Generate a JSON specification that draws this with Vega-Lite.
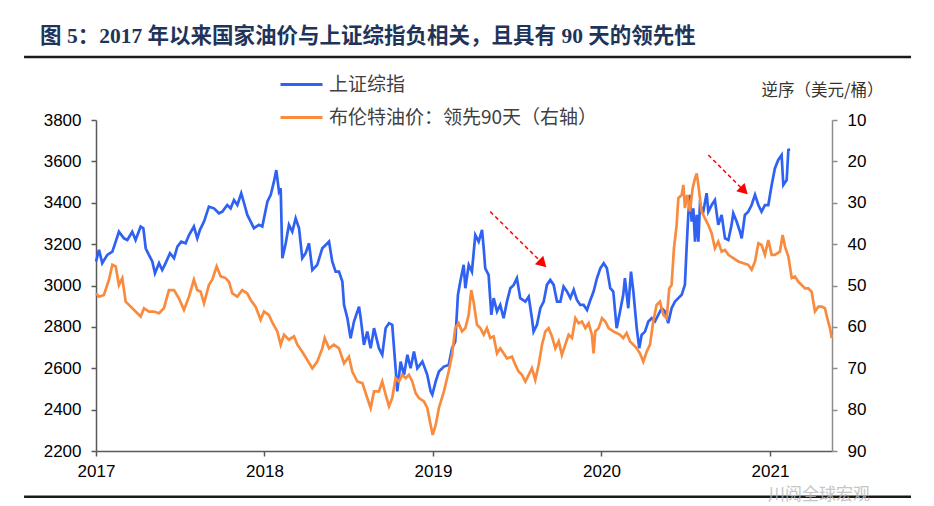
{
  "$schema": "https://vega.github.io/schema/vega-lite/v6.json",
  "width": 736,
  "height": 331,
  "autosize": {"type": "none"},
  "padding": {"left": 96, "top": 120, "right": 102, "bottom": 55},
  "background": "white",
  "title": {
    "text": "图 5：2017 年以来国家油价与上证综指负相关，且具有 90 天的领先性",
    "anchor": "start",
    "frame": "group",
    "dx": -56,
    "offset": 8,
    "font": "Liberation Serif, Noto Sans CJK SC",
    "fontSize": 21.5,
    "fontWeight": "bold",
    "color": "#1f3458"
  },
  "config": {"view": {"stroke": null}},
  "datasets": {
    "shci": [
      {"t":2017.000,"value":3116},{"t":2017.018,"value":3172},{"t":2017.037,"value":3108},{"t":2017.067,"value":3148},{"t":2017.097,"value":3164},{"t":2017.117,"value":3212},{"t":2017.136,"value":3260},{"t":2017.166,"value":3228},{"t":2017.186,"value":3220},{"t":2017.215,"value":3260},{"t":2017.235,"value":3220},{"t":2017.265,"value":3285},{"t":2017.281,"value":3277},{"t":2017.295,"value":3180},{"t":2017.314,"value":3148},{"t":2017.334,"value":3116},{"t":2017.350,"value":3059},{"t":2017.374,"value":3108},{"t":2017.393,"value":3075},{"t":2017.413,"value":3108},{"t":2017.439,"value":3156},{"t":2017.463,"value":3132},{"t":2017.483,"value":3188},{"t":2017.506,"value":3212},{"t":2017.532,"value":3204},{"t":2017.552,"value":3244},{"t":2017.581,"value":3285},{"t":2017.601,"value":3228},{"t":2017.617,"value":3269},{"t":2017.641,"value":3309},{"t":2017.670,"value":3381},{"t":2017.700,"value":3373},{"t":2017.730,"value":3349},{"t":2017.750,"value":3357},{"t":2017.779,"value":3389},{"t":2017.799,"value":3373},{"t":2017.819,"value":3413},{"t":2017.839,"value":3389},{"t":2017.862,"value":3446},{"t":2017.882,"value":3389},{"t":2017.898,"value":3341},{"t":2017.918,"value":3309},{"t":2017.937,"value":3277},{"t":2017.967,"value":3293},{"t":2017.987,"value":3285},
      {"t":2018.017,"value":3405},{"t":2018.037,"value":3438},{"t":2018.056,"value":3502},{"t":2018.070,"value":3558},{"t":2018.086,"value":3454},{"t":2018.096,"value":3470},{"t":2018.106,"value":3132},{"t":2018.126,"value":3204},{"t":2018.145,"value":3293},{"t":2018.165,"value":3260},{"t":2018.185,"value":3325},{"t":2018.205,"value":3277},{"t":2018.224,"value":3132},{"t":2018.244,"value":3156},{"t":2018.264,"value":3204},{"t":2018.284,"value":3075},{"t":2018.313,"value":3100},{"t":2018.343,"value":3180},{"t":2018.363,"value":3196},{"t":2018.383,"value":3212},{"t":2018.402,"value":3116},{"t":2018.422,"value":3067},{"t":2018.442,"value":3067},{"t":2018.462,"value":3019},{"t":2018.472,"value":2906},{"t":2018.492,"value":2842},{"t":2018.511,"value":2745},{"t":2018.531,"value":2826},{"t":2018.561,"value":2898},{"t":2018.571,"value":2842},{"t":2018.590,"value":2713},{"t":2018.610,"value":2777},{"t":2018.630,"value":2697},{"t":2018.650,"value":2794},{"t":2018.679,"value":2697},{"t":2018.699,"value":2665},{"t":2018.719,"value":2794},{"t":2018.739,"value":2818},{"t":2018.758,"value":2810},{"t":2018.778,"value":2600},{"t":2018.788,"value":2488},{"t":2018.808,"value":2632},{"t":2018.828,"value":2568},{"t":2018.848,"value":2665},{"t":2018.867,"value":2600},{"t":2018.887,"value":2681},{"t":2018.907,"value":2600},{"t":2018.937,"value":2632},{"t":2018.966,"value":2568},{"t":2018.986,"value":2488},{"t":2018.996,"value":2472},{"t":2019.016,"value":2536},{"t":2019.035,"value":2584},{"t":2019.065,"value":2608},
      {"t":2019.093,"value":2616},{"t":2019.113,"value":2697},{"t":2019.132,"value":2729},{"t":2019.148,"value":2955},{"t":2019.162,"value":3019},{"t":2019.182,"value":3100},{"t":2019.192,"value":2987},{"t":2019.212,"value":3100},{"t":2019.231,"value":3067},{"t":2019.251,"value":3244},{"t":2019.271,"value":3212},{"t":2019.291,"value":3269},{"t":2019.301,"value":3180},{"t":2019.310,"value":3083},{"t":2019.330,"value":3051},{"t":2019.346,"value":2858},{"t":2019.360,"value":2939},{"t":2019.380,"value":2874},{"t":2019.399,"value":2906},{"t":2019.419,"value":2842},{"t":2019.439,"value":2922},{"t":2019.459,"value":2987},{"t":2019.479,"value":3003},{"t":2019.498,"value":3035},{"t":2019.518,"value":2939},{"t":2019.548,"value":2922},{"t":2019.568,"value":2946},{"t":2019.587,"value":2842},{"t":2019.597,"value":2777},{"t":2019.617,"value":2810},{"t":2019.637,"value":2890},{"t":2019.657,"value":2922},{"t":2019.676,"value":3003},{"t":2019.696,"value":3027},{"t":2019.716,"value":3003},{"t":2019.736,"value":2922},{"t":2019.756,"value":2922},{"t":2019.775,"value":2995},{"t":2019.795,"value":2971},{"t":2019.815,"value":2939},{"t":2019.835,"value":2979},{"t":2019.854,"value":2930},{"t":2019.874,"value":2906},{"t":2019.894,"value":2906},{"t":2019.914,"value":2882},{"t":2019.934,"value":2930},{"t":2019.953,"value":2971},{"t":2019.973,"value":3035},{"t":2019.993,"value":3083},{"t":2020.013,"value":3108},{"t":2020.032,"value":3083},{"t":2020.052,"value":2987},
      {"t":2020.070,"value":2971},{"t":2020.090,"value":2794},{"t":2020.110,"value":2874},{"t":2020.129,"value":2955},{"t":2020.139,"value":3035},{"t":2020.159,"value":2890},{"t":2020.175,"value":3067},{"t":2020.189,"value":2971},{"t":2020.209,"value":2794},{"t":2020.224,"value":2697},{"t":2020.238,"value":2761},{"t":2020.258,"value":2777},{"t":2020.278,"value":2826},{"t":2020.298,"value":2842},{"t":2020.317,"value":2826},{"t":2020.337,"value":2858},{"t":2020.357,"value":2890},{"t":2020.377,"value":2874},{"t":2020.396,"value":2818},{"t":2020.416,"value":2890},{"t":2020.436,"value":2922},{"t":2020.456,"value":2939},{"t":2020.476,"value":2955},{"t":2020.495,"value":3003},{"t":2020.505,"value":3180},{"t":2020.515,"value":3341},{"t":2020.525,"value":3438},{"t":2020.535,"value":3309},{"t":2020.545,"value":3373},{"t":2020.555,"value":3212},{"t":2020.565,"value":3341},{"t":2020.575,"value":3212},{"t":2020.584,"value":3389},{"t":2020.604,"value":3357},{"t":2020.624,"value":3446},{"t":2020.634,"value":3357},{"t":2020.654,"value":3389},{"t":2020.673,"value":3413},{"t":2020.693,"value":3293},{"t":2020.713,"value":3341},{"t":2020.733,"value":3228},{"t":2020.753,"value":3220},{"t":2020.772,"value":3293},{"t":2020.782,"value":3349},{"t":2020.802,"value":3309},{"t":2020.822,"value":3260},{"t":2020.832,"value":3228},{"t":2020.851,"value":3341},{"t":2020.871,"value":3357},{"t":2020.891,"value":3389},{"t":2020.911,"value":3438},{"t":2020.931,"value":3389},{"t":2020.950,"value":3357},{"t":2020.970,"value":3389},{"t":2020.990,"value":3389},{"t":2021.010,"value":3486},{"t":2021.029,"value":3566},{"t":2021.049,"value":3607},{"t":2021.069,"value":3631},{"t":2021.079,"value":3486},{"t":2021.099,"value":3510},{"t":2021.109,"value":3655},{"t":2021.119,"value":3658}
    ],
    "brent": [
      {"t":2017.000,"price":51.9},{"t":2017.018,"price":52.7},{"t":2017.047,"price":52.3},{"t":2017.077,"price":48.6},{"t":2017.097,"price":45.0},{"t":2017.117,"price":45.4},{"t":2017.136,"price":49.9},{"t":2017.156,"price":48.2},{"t":2017.176,"price":53.9},{"t":2017.206,"price":55.1},{"t":2017.235,"price":56.3},{"t":2017.265,"price":57.5},{"t":2017.285,"price":55.5},{"t":2017.314,"price":56.3},{"t":2017.344,"price":56.3},{"t":2017.374,"price":56.7},{"t":2017.403,"price":55.5},{"t":2017.433,"price":51.1},{"t":2017.463,"price":51.1},{"t":2017.492,"price":53.1},{"t":2017.522,"price":55.9},{"t":2017.552,"price":52.7},{"t":2017.581,"price":48.6},{"t":2017.601,"price":51.1},{"t":2017.621,"price":51.5},{"t":2017.641,"price":54.3},{"t":2017.670,"price":49.9},{"t":2017.690,"price":48.6},{"t":2017.716,"price":45.4},{"t":2017.740,"price":47.8},{"t":2017.769,"price":48.2},{"t":2017.789,"price":49.1},{"t":2017.809,"price":51.9},{"t":2017.839,"price":52.7},{"t":2017.868,"price":51.1},{"t":2017.898,"price":51.9},{"t":2017.918,"price":53.5},{"t":2017.947,"price":55.1},{"t":2017.977,"price":58.3},{"t":2017.997,"price":56.3},{"t":2018.026,"price":57.1},{"t":2018.047,"price":59.0},
      {"t":2018.076,"price":61.1},{"t":2018.096,"price":64.3},{"t":2018.116,"price":61.9},{"t":2018.145,"price":63.1},{"t":2018.175,"price":62.3},{"t":2018.195,"price":64.3},{"t":2018.224,"price":66.0},{"t":2018.254,"price":68.0},{"t":2018.284,"price":70.0},{"t":2018.313,"price":68.4},{"t":2018.343,"price":65.2},{"t":2018.357,"price":62.7},{"t":2018.383,"price":65.2},{"t":2018.412,"price":64.3},{"t":2018.442,"price":65.2},{"t":2018.472,"price":68.8},{"t":2018.501,"price":67.2},{"t":2018.521,"price":70.8},{"t":2018.551,"price":73.2},{"t":2018.581,"price":73.6},{"t":2018.610,"price":77.2},{"t":2018.630,"price":79.6},{"t":2018.650,"price":75.6},{"t":2018.679,"price":75.6},{"t":2018.699,"price":73.2},{"t":2018.719,"price":76.4},{"t":2018.739,"price":79.2},{"t":2018.758,"price":77.2},{"t":2018.778,"price":72.4},{"t":2018.798,"price":73.2},{"t":2018.818,"price":71.6},{"t":2018.838,"price":72.4},{"t":2018.857,"price":71.6},{"t":2018.877,"price":73.2},{"t":2018.897,"price":76.0},{"t":2018.917,"price":77.2},{"t":2018.946,"price":78.0},{"t":2018.966,"price":79.6},{"t":2018.986,"price":83.7},{"t":2018.998,"price":86.1},{"t":2019.016,"price":83.7},{"t":2019.035,"price":79.6},{"t":2019.065,"price":75.6},
      {"t":2019.093,"price":70.8},{"t":2019.113,"price":66.8},{"t":2019.132,"price":60.3},{"t":2019.152,"price":59.1},{"t":2019.172,"price":61.1},{"t":2019.192,"price":60.3},{"t":2019.212,"price":57.1},{"t":2019.227,"price":51.1},{"t":2019.241,"price":53.9},{"t":2019.261,"price":59.5},{"t":2019.281,"price":60.3},{"t":2019.301,"price":61.9},{"t":2019.320,"price":60.3},{"t":2019.340,"price":62.7},{"t":2019.360,"price":62.3},{"t":2019.380,"price":66.4},{"t":2019.399,"price":65.2},{"t":2019.419,"price":66.4},{"t":2019.439,"price":67.6},{"t":2019.469,"price":67.2},{"t":2019.489,"price":69.2},{"t":2019.508,"price":70.8},{"t":2019.528,"price":71.6},{"t":2019.548,"price":73.2},{"t":2019.568,"price":71.6},{"t":2019.587,"price":70.0},{"t":2019.607,"price":72.8},{"t":2019.627,"price":69.2},{"t":2019.647,"price":64.3},{"t":2019.667,"price":61.1},{"t":2019.686,"price":60.3},{"t":2019.706,"price":62.3},{"t":2019.726,"price":65.2},{"t":2019.746,"price":63.5},{"t":2019.765,"price":66.8},{"t":2019.785,"price":64.3},{"t":2019.805,"price":61.9},{"t":2019.825,"price":62.7},{"t":2019.845,"price":57.9},{"t":2019.864,"price":59.1},{"t":2019.884,"price":58.7},{"t":2019.904,"price":60.3},{"t":2019.924,"price":59.1},{"t":2019.943,"price":61.9},{"t":2019.953,"price":66.4},{"t":2019.963,"price":61.1},{"t":2019.983,"price":60.3},{"t":2020.003,"price":57.9},{"t":2020.023,"price":58.7},{"t":2020.042,"price":60.3},
      {"t":2020.070,"price":61.1},{"t":2020.090,"price":61.5},{"t":2020.110,"price":61.9},{"t":2020.129,"price":62.7},{"t":2020.149,"price":61.5},{"t":2020.169,"price":63.5},{"t":2020.189,"price":64.3},{"t":2020.209,"price":65.2},{"t":2020.228,"price":66.4},{"t":2020.248,"price":68.4},{"t":2020.268,"price":66.0},{"t":2020.288,"price":64.3},{"t":2020.307,"price":58.7},{"t":2020.327,"price":54.7},{"t":2020.347,"price":53.9},{"t":2020.367,"price":57.1},{"t":2020.387,"price":57.9},{"t":2020.402,"price":50.7},{"t":2020.416,"price":49.9},{"t":2020.430,"price":41.0},{"t":2020.446,"price":35.4},{"t":2020.456,"price":28.9},{"t":2020.476,"price":28.1},{"t":2020.486,"price":25.7},{"t":2020.495,"price":31.3},{"t":2020.509,"price":28.1},{"t":2020.525,"price":32.1},{"t":2020.541,"price":26.5},{"t":2020.555,"price":24.1},{"t":2020.565,"price":22.9},{"t":2020.575,"price":25.7},{"t":2020.584,"price":28.9},{"t":2020.594,"price":32.1},{"t":2020.614,"price":33.8},{"t":2020.634,"price":35.4},{"t":2020.654,"price":37.4},{"t":2020.673,"price":41.0},{"t":2020.693,"price":39.4},{"t":2020.713,"price":41.8},{"t":2020.733,"price":41.4},{"t":2020.753,"price":42.6},{"t":2020.782,"price":43.4},{"t":2020.812,"price":44.2},{"t":2020.842,"price":44.6},{"t":2020.871,"price":45.0},{"t":2020.891,"price":46.2},{"t":2020.911,"price":44.2},{"t":2020.931,"price":39.8},{"t":2020.950,"price":40.2},{"t":2020.970,"price":42.6},{"t":2020.990,"price":39.0},{"t":2021.010,"price":42.6},{"t":2021.029,"price":42.6},{"t":2021.059,"price":41.8},
      {"t":2021.075,"price":37.8},{"t":2021.089,"price":40.6},{"t":2021.109,"price":43.0},{"t":2021.129,"price":48.2},{"t":2021.148,"price":47.8},{"t":2021.168,"price":49.1},{"t":2021.188,"price":49.9},{"t":2021.208,"price":50.7},{"t":2021.227,"price":50.7},{"t":2021.247,"price":51.5},{"t":2021.267,"price":56.3},{"t":2021.287,"price":55.1},{"t":2021.307,"price":55.1},{"t":2021.326,"price":55.5},{"t":2021.340,"price":57.9},{"t":2021.356,"price":60.3},{"t":2021.366,"price":62.7}
    ],
    "arrows": [
      {"x":2019.340,"y":3357,"x2":2019.651,"y2":3106},
      {"x":2020.634,"y":3631,"x2":2020.846,"y2":3458}
    ]
  },
  "layer": [
    {
      "layer": [
        {
          "data": {"name": "shci"},
          "mark": {"type": "line", "strokeWidth": 2.7},
          "encoding": {
            "x": {
              "field": "t", "type": "quantitative", "title": null,
              "scale": {"domain": [2017, 2021.368], "nice": false, "zero": false},
              "axis": {"values": [2017, 2018, 2019, 2020, 2021], "format": "d", "grid": false, "labelFlush": false,
                "domainColor": "#595959", "domainWidth": 1.5, "tickColor": "#595959", "tickWidth": 1.5, "tickSize": 5,
                "labelFont": "Liberation Sans", "labelFontSize": 17, "labelColor": "#000000", "labelPadding": 7}
            },
            "y": {
              "field": "value", "type": "quantitative", "title": null,
              "scale": {"domain": [2200, 3800], "nice": false, "zero": false},
              "axis": {"orient": "left", "values": [2200, 2400, 2600, 2800, 3000, 3200, 3400, 3600, 3800], "format": "d", "grid": false,
                "domainColor": "#595959", "domainWidth": 1.5, "tickColor": "#595959", "tickWidth": 1.5, "tickSize": 5,
                "labelFont": "Liberation Sans", "labelFontSize": 17, "labelColor": "#000000", "labelPadding": 10}
            },
            "color": {
              "datum": "上证综指", "type": "nominal",
              "scale": {"domain": ["上证综指", "布伦特油价：领先90天（右轴）"], "range": ["#2f62f2", "#f98b3e"]},
              "legend": {"orient": "none", "legendX": 183, "legendY": -58, "title": null, "direction": "vertical",
                "symbolType": "stroke", "symbolSize": 1764, "symbolStrokeWidth": 3,
                "labelFont": "Noto Sans CJK SC", "labelFontSize": 19, "labelColor": "#404040", "labelLimit": 400,
                "labelOffset": 5, "rowPadding": -4, "padding": 0}
            }
          }
        },
        {
          "data": {"name": "arrows"},
          "mark": {"type": "rule", "color": "#ff0000", "strokeDash": [4, 3], "strokeWidth": 1.5},
          "encoding": {
            "x": {"field": "x", "type": "quantitative", "title": null},
            "y": {"field": "y", "type": "quantitative", "title": null},
            "x2": {"field": "x2"},
            "y2": {"field": "y2"}
          }
        },
        {
          "data": {"name": "arrows"},
          "mark": {"type": "point", "shape": "triangle-up", "filled": true, "color": "#ff0000", "opacity": 1, "size": 140, "angle": 135},
          "encoding": {
            "x": {"field": "x2", "type": "quantitative", "title": null},
            "y": {"field": "y2", "type": "quantitative", "title": null}
          }
        },
        {
          "data": {"values": [{}]},
          "mark": {"type": "rule", "color": "#1a1a1a", "strokeWidth": 2.5, "clip": false},
          "encoding": {"x": {"datum": 2016.573}, "x2": {"datum": 2021.837}, "y": {"datum": 4104}}
        },
        {
          "data": {"values": [{}]},
          "mark": {"type": "rule", "color": "#1a1a1a", "strokeWidth": 2.5, "clip": false},
          "encoding": {"x": {"datum": 2016.573}, "x2": {"datum": 2021.837}, "y": {"datum": 1979}}
        },
        {
          "data": {"values": [{}]},
          "mark": {"type": "text", "font": "Noto Sans CJK SC", "fontSize": 17, "color": "#b8b8b8", "opacity": 0.8, "clip": false},
          "encoding": {"x": {"datum": 2021.291}, "y": {"datum": 1986}, "text": {"value": "川阅全球宏观"}}
        }
      ]
    },
    {
      "data": {"name": "brent"},
      "mark": {"type": "line", "strokeWidth": 2.7},
      "encoding": {
        "x": {"field": "t", "type": "quantitative", "title": null},
        "y": {
          "field": "price", "type": "quantitative",
          "scale": {"domain": [10, 90], "reverse": true, "nice": false, "zero": false},
          "axis": {"orient": "right", "values": [10, 20, 30, 40, 50, 60, 70, 80, 90], "grid": false,
            "title": "逆序（美元/桶）", "titleAngle": 0, "titleX": -10, "titleY": -30, "titleAlign": "center", "titleBaseline": "middle",
            "titleFont": "Noto Sans CJK SC", "titleFontSize": 16.5, "titleFontWeight": "normal", "titleColor": "#333333",
            "domainColor": "#8c8c8c", "domainWidth": 1.5, "tickColor": "#8c8c8c", "tickWidth": 1.5, "tickSize": 5,
            "labelFont": "Liberation Sans", "labelFontSize": 17, "labelColor": "#000000", "labelPadding": 10}
        },
        "color": {"datum": "布伦特油价：领先90天（右轴）", "type": "nominal"}
      }
    }
  ],
  "resolve": {"scale": {"y": "independent"}}
}
